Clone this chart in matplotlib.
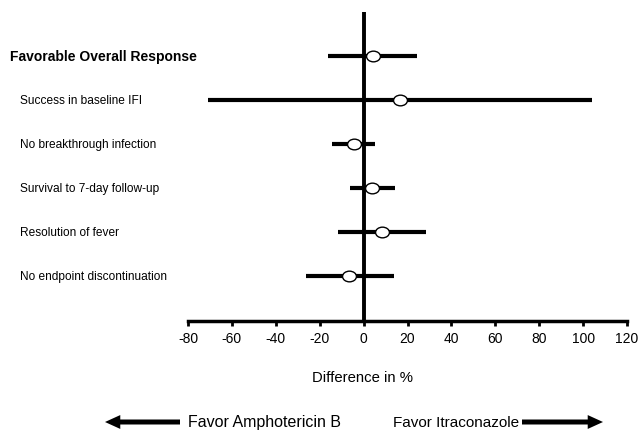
import numpy as np
import matplotlib
matplotlib.use("Agg")
import matplotlib.pyplot as plt
from matplotlib.path import Path
from matplotlib.transforms import Affine2D

# data
labels = ["Favorable Overall Response", "Success in baseline IFI",
          "No breakthrough infection", "Survival to 7-day follow-up",
          "Resolution of fever", "No endpoint discontinuation"]
diff = [4.1, 16.6, -4.4, 4.0, 8.2, -6.5]
ci_low = [-16.0, -70.8, -14.5, -6.1, -11.8, -26.1]
ci_high = [24.2, 104.2, 5.2, 14.2, 28.5, 13.8]
xticks = [-80, -60, -40, -20, 0, 20, 40, 60, 80, 100, 120]

plt.rcParams['font.family'] = ["Liberation Sans", "DejaVu Sans"]

fig = plt.figure(figsize=(6.39, 4.31), dpi=100)
W, H = 639., 431.
ax = fig.add_axes([188/W, 1-322/H, (627-188)/W, (322-13)/H])

# slightly wide ellipse like the original markers
ell = Path.unit_circle().transformed(Affine2D().scale(1.3, 1.0))

rows = np.arange(len(labels))
for i in rows:
    ax.plot([ci_low[i], ci_high[i]], [i, i], color='k', linewidth=3.0,
            solid_capstyle='butt', zorder=3)
ax.plot(diff, rows, linestyle='', marker=ell, markersize=10,
        markerfacecolor='white', markeredgecolor='k', markeredgewidth=1.0, zorder=5)
ax.axvline(0, color='k', linewidth=2.8, zorder=4)

ax.set_xlim(-80, 120)
ax.set_ylim(6.03, -0.99)
ax.set_xticks(xticks)
ax.set_xticklabels([str(t) for t in xticks], fontsize=10)
ax.set_yticks([])
for s in ['top', 'right', 'left']:
    ax.spines[s].set_visible(False)
ax.spines['bottom'].set_linewidth(2.5)
ax.tick_params(axis='x', direction='out', length=3.5, width=2, pad=4)

for i in rows:
    if i == 0:
        fig.text(10/W, 1-56.7/H, labels[i], fontsize=10, fontweight='bold',
                 va='center', ha='left')
    else:
        fig.text(20/W, 1-(56.7+44*i)/H, labels[i], fontsize=8.6,
                 va='center', ha='left')

fig.text(362/W, 1-378/H, "Difference in %", fontsize=10.7, ha='center', va='center')

ya = 1-423/H
arr = dict(width=3.6, headwidth=10, headlength=11, facecolor='k', edgecolor='k',
           linewidth=0, shrink=0)
ax.annotate("", xy=(105/W, ya), xytext=(180/W, ya), xycoords='figure fraction',
            textcoords='figure fraction', arrowprops=arr)
ax.annotate("", xy=(603/W, ya), xytext=(522/W, ya), xycoords='figure fraction',
            textcoords='figure fraction', arrowprops=arr)
fig.text(188/W, ya, "Favor Amphotericin B", fontsize=11.5, ha='left', va='center')
fig.text(393/W, ya, "Favor Itraconazole", fontsize=11, ha='left', va='center')

fig.savefig("out.png", dpi=100)
